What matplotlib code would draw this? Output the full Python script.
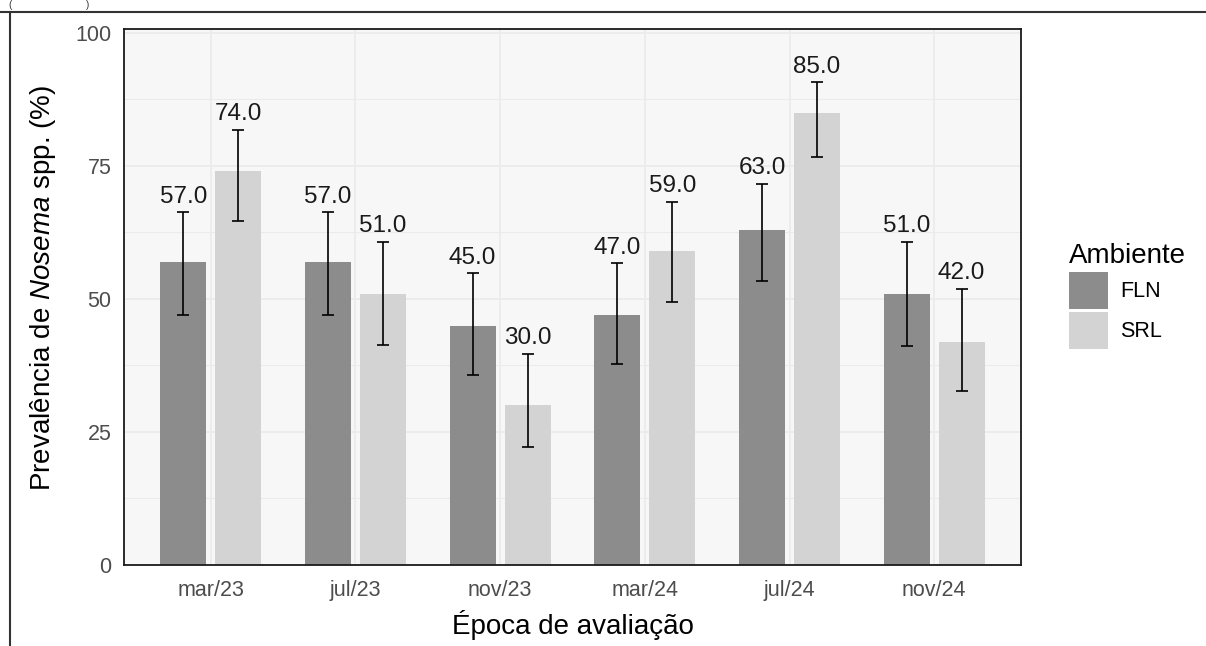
import numpy as np
import matplotlib
matplotlib.use('Agg')
import matplotlib.pyplot as plt
from matplotlib.patches import Patch
from matplotlib.lines import Line2D

plt.rcParams['font.family'] = ['Liberation Sans', 'DejaVu Sans']
plt.rcParams['mathtext.fontset'] = 'custom'
plt.rcParams['mathtext.rm'] = 'Liberation Sans'
plt.rcParams['mathtext.it'] = 'Liberation Sans:italic'

epocas = ['mar/23', 'jul/23', 'nov/23', 'mar/24', 'jul/24', 'nov/24']
fln = [57.0, 57.0, 45.0, 47.0, 63.0, 51.0]
fln_lo = [47.0, 47.0, 35.7, 37.8, 53.3, 41.2]
fln_hi = [66.3, 66.3, 54.8, 56.7, 71.7, 60.8]
srl = [74.0, 51.0, 30.0, 59.0, 85.0, 42.0]
srl_lo = [64.7, 41.4, 22.1, 49.4, 76.7, 32.8]
srl_hi = [81.8, 60.8, 39.7, 68.2, 90.7, 51.9]

cor_fln = '#8C8C8C'
cor_srl = '#D3D3D3'

fig = plt.figure(figsize=(12.06, 6.46), dpi=100)
ax = fig.add_axes([124 / 1206, 1 - 565 / 646, (1021 - 124) / 1206, (565 - 29) / 646])
ax.set_facecolor('#F7F7F7')

x = np.arange(1, len(epocas) + 1)
w = 0.32
off = 0.19

series = [(fln, fln_lo, fln_hi, cor_fln, -off), (srl, srl_lo, srl_hi, cor_srl, off)]
for vals, lo, hi, cor, d in series:
    vals = np.array(vals)
    lo = np.array(lo)
    hi = np.array(hi)
    ax.bar(x + d, vals, width=w, color=cor, zorder=2)
    ax.errorbar(x + d, vals, yerr=[vals - lo, hi - vals], fmt='none', ecolor='black',
                elinewidth=1.2, capsize=4.5, capthick=1.2, zorder=3)
    for xi, v, h in zip(x + d, vals, hi):
        ax.annotate(f'{v:.1f}', (xi, h), xytext=(0, 7), textcoords='offset points',
                    ha='center', va='baseline', fontsize=17.5, color='#1a1a1a', zorder=4)

ax.set_xlim(0.4, 6.6)
ax.set_ylim(0, 100.75)
ax.set_xticks(x)
ax.set_xticklabels(epocas)
ax.set_yticks([0, 25, 50, 75, 100])
ax.set_yticks([12.5, 37.5, 62.5, 87.5], minor=True)
ax.tick_params(axis='both', which='both', length=0, labelsize=15.5, labelcolor='#4D4D4D')
ax.tick_params(axis='y', pad=9)
ax.tick_params(axis='x', pad=11)

ax.grid(True, which='major', color='#EBEBEB', linewidth=1.3, zorder=0)
ax.grid(True, which='minor', axis='y', color='#EBEBEB', linewidth=0.8, zorder=0)
ax.set_axisbelow(True)
for s in ax.spines.values():
    s.set_color('#1a1a1a')
    s.set_linewidth(1.3)

ax.set_xlabel('Época de avaliação', fontsize=20, color='black', labelpad=6)
ax.set_ylabel(r'Prevalência de $\mathit{Nosema}$ spp. (%)', fontsize=20, color='black')
ax.yaxis.set_label_coords((58 - 124) / 897, (565 - 288) / 536)

handles = [Patch(facecolor=cor_fln, label='FLN'), Patch(facecolor=cor_srl, label='SRL')]
leg = fig.legend(handles=handles, title='Ambiente', loc='center left',
                 bbox_to_anchor=(1058 / 1206, 1 - 296 / 646), frameon=False,
                 fontsize=15.5, title_fontsize=20, handlelength=1.8, handleheight=2.3,
                 labelspacing=0.12, handletextpad=0.6, borderpad=0, alignment='left')

# outer frame of the screenshot
fig.add_artist(Line2D([0, 1], [1 - 11.5 / 646, 1 - 11.5 / 646], transform=fig.transFigure,
                      color='#333333', linewidth=1.5))
fig.add_artist(Line2D([10 / 1206, 10 / 1206], [0, 1 - 11.5 / 646], transform=fig.transFigure,
                      color='#333333', linewidth=1.5))
fig.text(8 / 1206, 1 - 0.5 / 646, '(', fontsize=7, va='top', ha='left', color='#333333')
fig.text(86 / 1206, 1 - 0.5 / 646, ')', fontsize=7, va='top', ha='left', color='#333333')

fig.savefig('out.png', dpi=100)
